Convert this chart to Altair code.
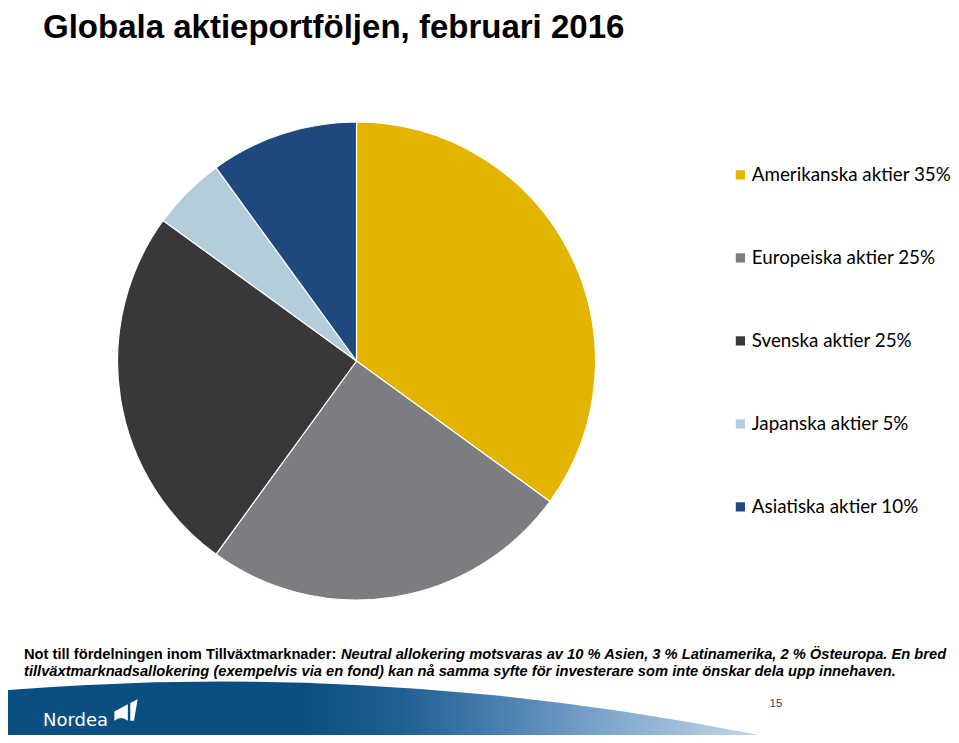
import altair as alt
import pandas as pd

# ---- data ----
title_text = ["Globala aktieportföljen, februari 2016"]
categories = ["Amerikanska aktier", "Europeiska aktier", "Svenska aktier",
              "Japanska aktier", "Asiatiska aktier"]
shares = [35, 25, 25, 5, 10]
colors = ["#E3B500", "#7B7D80", "#38383A", "#B3CDDA", "#1F497D"]
note_bold = ["Not till fördelningen inom Tillväxtmarknader:"]
note_italic_1 = ["Neutral allokering motsvaras av 10 % Asien, 3 % Latinamerika, 2 % Östeuropa. En bred"]
note_italic_2 = ["tillväxtmarknadsallokering (exempelvis via en fond) kan nå samma syfte för investerare som inte önskar dela upp innehaven."]
page_number = ["15"]
brand = ["Nordea"]

labels = [f"{c} {s}%" for c, s in zip(categories, shares)]
pie_df = pd.DataFrame({"label": labels, "share": shares,
                       "order": list(range(len(labels)))})

FONT = "Liberation Sans, Arial, Helvetica, sans-serif"

# ---- footer band (decorative swoosh) ----
band_gradient = alt.LinearGradient(
    gradient="linear", x1=0, x2=1, y1=0, y2=0,
    stops=[
        alt.GradientStop(offset=0.0, color="#0b4f82"),
        alt.GradientStop(offset=0.5144, color="#0b4f82"),
        alt.GradientStop(offset=0.5327, color="#1f5f93"),
        alt.GradientStop(offset=0.5510, color="#4a7fb0"),
        alt.GradientStop(offset=0.5694, color="#7ca4c9"),
        alt.GradientStop(offset=0.5877, color="#a9c5dd"),
        alt.GradientStop(offset=0.6060, color="#d6e3ef"),
        alt.GradientStop(offset=1.0, color="#ffffff"),
    ],
)
band = alt.Chart(pd.DataFrame({"t": page_number})).mark_arc(
    color=band_gradient, clip=True, theta=0, theta2=6.2832, radius=2729.4,
    strokeWidth=0
).encode(x=alt.value(213.4), y=alt.value(3403))

# ---- pie ----
pie = alt.Chart(pie_df).mark_arc(
    outerRadius=239, stroke="white", strokeWidth=1.2
).encode(
    theta=alt.Theta("share:Q", stack=True),
    order=alt.Order("order:Q", sort="ascending"),
    color=alt.Color(
        "label:N",
        scale=alt.Scale(domain=labels, range=colors),
        legend=alt.Legend(
            title=None, orient="none", legendX=723, legendY=157.5,
            symbolType="square", symbolSize=85, symbolStrokeWidth=0,
            symbolOpacity=1, labelFont="Lato", labelFontSize=18.8,
            labelColor="#000000", rowPadding=63, labelOffset=2,
            padding=0, labelLimit=400,
        ),
    ),
    x=alt.value(348.5),
    y=alt.value(353),
)


def text_layer(values, x, y, size, weight="bold", style="normal",
               color="#000000", font=FONT, align="left", baseline="alphabetic"):
    return alt.Chart(pd.DataFrame({"t": values})).mark_text(
        align=align, baseline=baseline, font=font, fontSize=size,
        fontWeight=weight, fontStyle=style, color=color
    ).encode(x=alt.value(x), y=alt.value(y), text="t:N")


title_layer = text_layer(title_text, 35, 30, 33)
note1a = text_layer(note_bold, 16, 651, 14.7)
note1b = text_layer(note_italic_1, 333, 651, 14.7, style="italic")
note2 = text_layer(note_italic_2, 16, 668, 14.7, style="italic")
page_layer = text_layer(page_number, 768, 699, 11.5, weight="normal",
                        color="#404040", align="center")
brand_layer = text_layer(brand, 35, 718, 18, weight="normal", color="#ffffff",
                         font="DejaVu Sans")

sail_path = ("M -0.95 0.05 L 0.15 -0.55 L 0.15 0.8 Q -0.4 0.35 -0.95 0.8 Z "
             "M 0.35 -0.65 L 0.95 -0.95 L 0.65 0.8 L 0.35 0.8 Z")
sail = alt.Chart(pd.DataFrame({"t": brand})).mark_point(
    shape=sail_path, filled=True, color="#ffffff", opacity=1, size=600,
    strokeWidth=0
).encode(x=alt.value(118), y=alt.value(703))

chart = alt.layer(
    band, pie, title_layer, note1a, note1b, note2, page_layer, brand_layer, sail
).properties(
    width=943, height=727,
    autosize=alt.AutoSizeParams(type="none"),
    padding=0,
).configure_view(stroke=None)

chart.save("out.html", embed_options={"renderer": "svg", "actions": False})
